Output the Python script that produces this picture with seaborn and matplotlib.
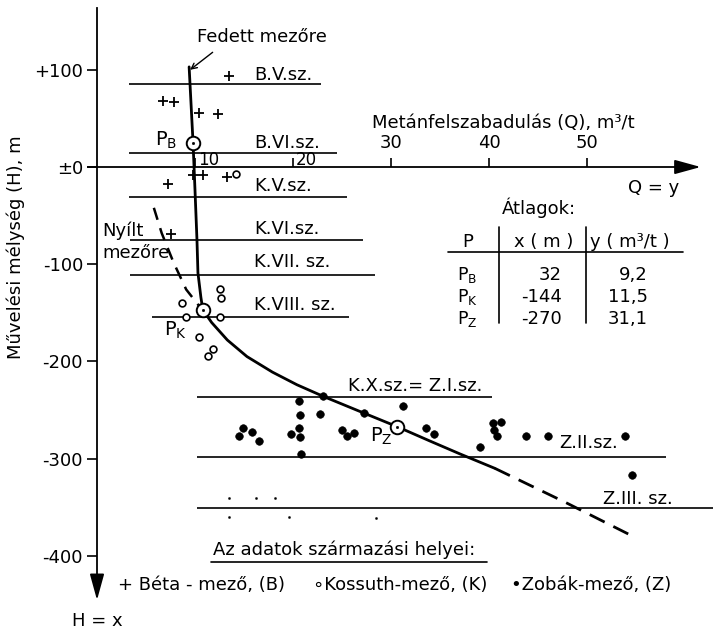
import matplotlib
matplotlib.use('Agg')
import matplotlib.pyplot as plt
import seaborn as sns

# ---- data (Q = m3/t, H = depth in m) ----
# average curve, solid part and its dashed continuation
curve_q = [9.4, 9.8, 10.0, 10.2, 10.3, 10.6, 10.8, 11.7, 13.3, 15.3, 17.9, 20.4, 23.1, 27.2, 30.6, 34.0, 37.0, 40.6]
curve_h = [103, 25, -24, -75, -109, -134, -147, -160, -178, -195, -211, -224, -236, -253, -267, -282, -295, -310]
curve_dash_q = [40.6, 47.8, 54.9]
curve_dash_h = [-310, -345, -381]
# "Nyilt mezore" dashed branch
open_q = [5.8, 6.6, 7.8, 9.1, 10.5]
open_h = [-42, -68, -98, -126, -144]

# Beta field (+)
beta_q = [13.5, 6.7, 7.9, 10.4, 12.3, 7.2, 9.8, 10.8, 13.3, 7.5]
beta_h = [94, 68, 67, 56, 55, -17, -8, -8, -10, -69]
# Kossuth field (o)
koss_q = [14.2, 12.6, 12.7, 8.7, 9.1, 12.6, 10.4, 11.8, 11.3]
koss_h = [-7, -125, -135, -140, -154, -154, -175, -187, -194]
# Zobak field (filled dots)
zob_q = [14.9, 14.5, 15.8, 16.5, 20.6, 20.7, 20.6, 19.8, 20.7, 20.8, 22.8, 23.1, 25.0, 25.5, 26.2, 27.2,
         31.2, 33.6, 34.4, 39.1, 40.4, 41.2, 40.5, 40.8, 43.8, 46.0, 53.9, 54.6]
zob_h = [-268, -277, -273, -282, -241, -255, -268, -275, -278, -295, -254, -236, -271, -277, -274, -253,
         -246, -268, -275, -288, -263, -262, -271, -277, -277, -277, -277, -317]
# tiny dots (Z.III area)
tiny_q = [13.5, 16.2, 18.2, 13.5, 19.6, 28.5]
tiny_h = [-340, -340, -340, -360, -360, -361]

# averages P_B, P_K, P_Z as drawn
avg_q = [9.8, 10.8, 30.6]
avg_h = [25, -147, -267]

# coal seams
seam_names = ['B.V.sz.', 'B.VI.sz.', 'K.V.sz.', 'K.VI.sz.', 'K.VII. sz.', 'K.VIII. sz.',
              'K.X.sz.= Z.I.sz.', 'Z.II.sz.', 'Z.III. sz.']
seam_h = [85.4, 14.4, -30.9, -74.6, -110.6, -154.3, -236.6, -298.4, -351.3]
seam_q0 = [3.3, 3.3, 3.3, 3.4, 3.4, 5.6, 10.2, 10.2, 10.2]
seam_q1 = [22.9, 24.5, 25.5, 27.1, 28.4, 25.7, 40.3, 58.1, 63.0]

# table of averages
tab_p = ['P$_\\mathrm{B}$', 'P$_\\mathrm{K}$', 'P$_\\mathrm{Z}$']
tab_x = ['32', '-144', '-270']
tab_y = ['9,2', '11,5', '31,1']

h_ticks = [100, 0, -100, -200, -300, -400]
h_labels = ['+100', '±0', '-100', '-200', '-300', '-400']
q_ticks = [10, 20, 30, 40, 50]

sns.set_style('ticks')
plt.rcParams['font.family'] = ['DejaVu Sans']
plt.rcParams['text.color'] = 'black'
plt.rcParams['xtick.color'] = 'black'
plt.rcParams['ytick.color'] = 'black'
fs = 13

fig = plt.figure(figsize=(7.13, 6.3), dpi=100)
ax = fig.add_axes([0, 0, 1, 1])
ax.set_xlim(-9.9, 62.86)
ax.set_ylim(-476.3, 171.8)

# axes through the origin
for s in ['top', 'right']:
    ax.spines[s].set_visible(False)
ax.spines['left'].set_position(('data', 0))
ax.spines['bottom'].set_position(('data', 0))
ax.spines['left'].set_bounds(-430, 163.6)
ax.spines['bottom'].set_bounds(-0.9, 60)
for s in ['left', 'bottom']:
    ax.spines[s].set_linewidth(1.3)
    ax.spines[s].set_color('black')
ax.set_yticks(h_ticks, labels=h_labels)
ax.set_xticks(q_ticks)
ax.tick_params(axis='y', direction='out', length=7, width=1.2, labelsize=fs, pad=3, left=True)
ax.tick_params(axis='x', direction='in', length=6.5, width=1.2, labelbottom=False, bottom=True)
ax.set_xlabel('')
ax.set_ylabel('')

ax.annotate('', xy=(61.6, 0), xytext=(59, 0),
            arrowprops=dict(arrowstyle='-|>,head_length=0.8,head_width=0.22', color='black', lw=1.3,
                            mutation_scale=20, shrinkA=0, shrinkB=0))
ax.annotate('', xy=(0, -445.5), xytext=(0, -420),
            arrowprops=dict(arrowstyle='-|>,head_length=0.8,head_width=0.22', color='black', lw=1.3,
                            mutation_scale=20, shrinkA=0, shrinkB=0))

# Q tick labels
ax.text(10.3, 7, '10', fontsize=12, ha='left', va='center')
ax.text(20.3, 7, '20', fontsize=12, ha='left', va='center')
for q in q_ticks[2:]:
    ax.text(q, 25, str(q), fontsize=fs, ha='center', va='center')

# seams
ax.hlines(seam_h, seam_q0, seam_q1, color='black', lw=1.2)
seam_lab_q = [16.0, 16.0, 16.0, 16.0, 16.0, 16.0, 25.6, 47.2, 51.6]
seam_lab_h = [94.7, 24.7, -19.5, -63.8, -97.7, -142, -225.3, -284, -341.6]
for name, q, h in zip(seam_names, seam_lab_q, seam_lab_h):
    ax.text(q, h, name, fontsize=fs, ha='left', va='center')

# curves
sns.lineplot(x=curve_q, y=curve_h, sort=False, estimator=None, color='black', lw=2.0, ax=ax)
sns.lineplot(x=curve_dash_q, y=curve_dash_h, sort=False, estimator=None, color='black', lw=2.0,
             linestyle=(0, (6, 3.5)), ax=ax)
sns.lineplot(x=open_q, y=open_h, sort=False, estimator=None, color='black', lw=1.8,
             linestyle=(0, (5, 3.5)), ax=ax)

# data points
sns.scatterplot(x=beta_q, y=beta_h, marker='+', s=50, color='black', linewidth=1.3, ax=ax, zorder=4)
sns.scatterplot(x=koss_q, y=koss_h, marker='o', s=24, facecolor='white', edgecolor='black',
                linewidth=1.2, ax=ax, zorder=4)
sns.scatterplot(x=zob_q, y=zob_h, marker='o', s=30, color='black', edgecolor='black', ax=ax, zorder=4)
sns.scatterplot(x=tiny_q, y=tiny_h, marker='o', s=3, color='black', edgecolor='black', ax=ax, zorder=4)
sns.scatterplot(x=avg_q, y=avg_h, marker='o', s=95, facecolor='white', edgecolor='black',
                linewidth=1.4, ax=ax, zorder=5)
sns.scatterplot(x=avg_q, y=avg_h, marker='o', s=4, color='black', edgecolor='black', ax=ax, zorder=6)

# point labels
ax.text(8.2, 27, 'P$_\\mathrm{B}$', fontsize=14, ha='right', va='center')
ax.text(8.0, -168, 'P$_\\mathrm{K}$', fontsize=14, ha='center', va='center')
ax.text(29.0, -277, 'P$_\\mathrm{Z}$', fontsize=14, ha='center', va='center')

# annotations
ax.text(10.2, 134, 'Fedett mezőre', fontsize=fs, ha='left', va='center')
ax.annotate('', xy=(9.5, 100), xytext=(11.8, 118),
            arrowprops=dict(arrowstyle='->', color='black', lw=1.0, shrinkA=0, shrinkB=0))
ax.text(0.5, -66, 'Nyílt', fontsize=fs, ha='left', va='center')
ax.text(0.5, -88.5, 'mezőre', fontsize=fs, ha='left', va='center')
ax.text(28.1, 45, 'Metánfelszabadulás (Q), m³/t', fontsize=fs, ha='left', va='center')
ax.text(54.2, -21.6, 'Q = y', fontsize=fs, ha='left', va='center')
ax.text(-8.3, -83, 'Művelési mélység (H), m', fontsize=fs, rotation=90, ha='center', va='center')
ax.text(0, -467, 'H = x', fontsize=fs, ha='center', va='center')

# table of averages
ax.text(41.3, -42, 'Átlagok:', fontsize=fs, ha='left', va='center')
ax.text(37.8, -77, 'P', fontsize=fs, ha='center', va='center')
ax.text(48.6, -77, 'x ( m )', fontsize=fs, ha='right', va='center')
ax.text(50.3, -77, 'y ( m³/t )', fontsize=fs, ha='left', va='center')
ax.plot([35.8, 59.8], [-87.4, -87.4], color='black', lw=1.2)
ax.plot([41.0, 41.0], [-61.7, -160.5], color='black', lw=1.2)
ax.plot([49.9, 49.9], [-61.7, -160.5], color='black', lw=1.2)
row_h = [-111, -133.5, -156]
for p, xv, yv, h in zip(tab_p, tab_x, tab_y, row_h):
    ax.text(36.7, h, p, fontsize=12.5, ha='left', va='center')
    ax.text(47.4, h, xv, fontsize=fs, ha='right', va='center')
    ax.text(56.2, h, yv, fontsize=fs, ha='right', va='center')

# source legend
ax.text(11.8, -394, 'Az adatok származási helyei:', fontsize=fs, ha='left', va='center')
ax.plot([11.6, 39.8], [-406.5, -406.5], color='black', lw=1.2)
ax.text(2.1, -430, '+ Béta - mező, (B)', fontsize=fs, ha='left', va='center')
ax.text(22.0, -430, '∘Kossuth-mező, (K)', fontsize=fs, ha='left', va='center')
ax.text(42.2, -430, '•Zobák-mező, (Z)', fontsize=fs, ha='left', va='center')

plt.savefig('out.png', dpi=100)
